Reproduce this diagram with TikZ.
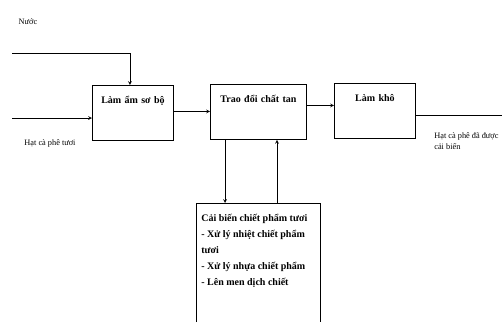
\documentclass[tikz,border=0pt]{standalone}
\usepackage{fontspec}
\setmainfont{Liberation Serif}
\usetikzlibrary{positioning}
\begin{document}
\begin{tikzpicture}[x=1pt, y=-1pt, >=stealth, line width=0.7pt,
	box/.style={draw, line width=0.9pt, inner sep=0pt, align=center, font=\bfseries\fontsize{10}{12}\selectfont, text height=18pt},
	lbl/.style={font=\fontsize{8.3}{11}\selectfont, inner sep=0pt}]
	% 1. khung (nền trắng)
	\useasboundingbox[fill=white] (0,0) rectangle (502,322);
	
	% 2. các khối chính
	\node[box, anchor=north west, text width=81pt, text depth=37pt] (lamam) at (92,85) {Làm ẩm sơ bộ};
	\node[box, anchor=north west, text width=96pt, text depth=37pt] (traodoi) at (210,84) {Trao đổi chất tan};
	\node[box, anchor=north west, text width=81pt, text depth=37pt] (lamkho) at (334,83) {Làm khô};
	
	% 3. khối dưới (hở đáy)
	\coordinate (bl) at (196,322);
	\coordinate (br) at (320,322);
	\draw[line width=0.9pt] (bl) |- (br |- 0,203) coordinate (tr) -- (br);
	\node[anchor=north west, align=left, inner sep=0pt, font=\bfseries\fontsize{10}{16}\selectfont] (caibien) at (201,214)
		{Cải biến chiết phẩm tươi\\- Xử lý nhiệt chiết phẩm\\tươi\\- Xử lý nhựa chiết phẩm\\- Lên men dịch chiết};
	
	% 4. nhãn vào / ra
	\node[lbl] (nuoc) at (28,22) {Nước};
	\node[lbl] (hattuoi) at (50,143) {Hạt cà phê tươi};
	\node[lbl, anchor=north west, align=left] (hatra) at (434,132) {Hạt cà phê đã được\\cải biến};
	\coordinate (nuocvao) at (12,53);
	\coordinate (hatvao) at (12,118);
	\coordinate (hatra_end) at (502,115);
	
	% 5. mũi tên
	\draw[->] (nuocvao) -| ([xshift=-3pt]lamam.north);
	\draw[->] (hatvao) -- (hatvao -| lamam.west);
	\draw[->] ([yshift=1.5pt]lamam.east) -- ([yshift=1.5pt]lamam.east -| traodoi.west);
	\draw[->] ([yshift=6.5pt]traodoi.east) -- ([yshift=6.5pt]traodoi.east -| lamkho.west);
	\draw (lamkho.east |- hatra_end) -- (hatra_end);
	\draw[->] (traodoi.south -| 225,0) -- (225,203);
	\draw[->] (277,203) -- (traodoi.south -| 277,0);
\end{tikzpicture}
\end{document}
